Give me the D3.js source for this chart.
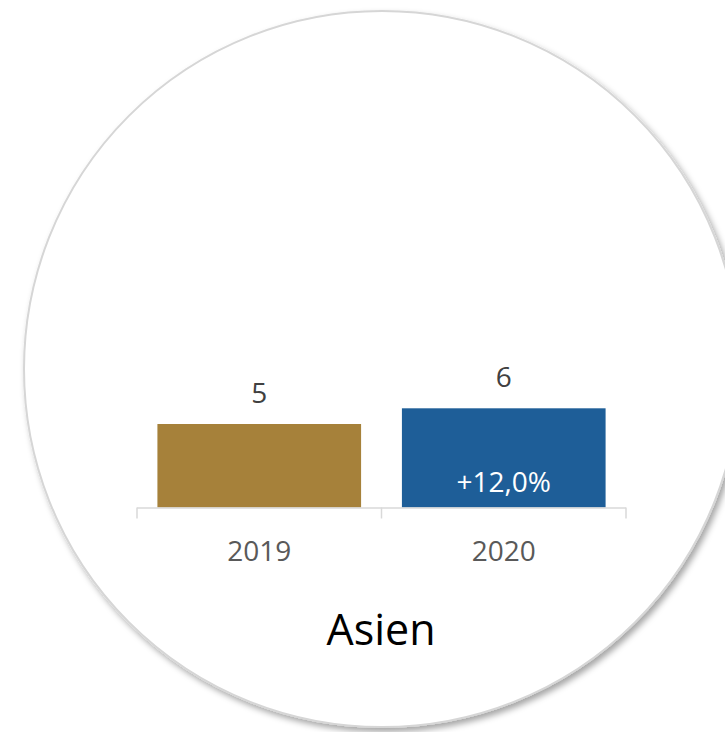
<!DOCTYPE html>
<html>
<head>
<meta charset="utf-8">
<script src="https://cdn.jsdelivr.net/npm/d3@7"></script>
<style>
  html, body { margin: 0; padding: 0; background: #ffffff; }
  svg { display: block; }
</style>
</head>
<body>
<div id="chart"></div>
<script>
// ---- data ----
const categories = ["2019", "2020"];
const values = [5.05, 6.0];
const valueLabels = ["5", "6"];
const changeLabels = ["", "+12,0%"];
const barColors = ["#A6813A", "#1E5E98"];
const title = "Asien";

// ---- layout ----
const W = 725, H = 732;
const cx = 382, cy = 369, R = 358;
const plotLeft = 137, plotRight = 626, baseY = 507.5, topY = 408.3;

const svg = d3.select("#chart").append("svg")
  .attr("width", W).attr("height", H);

const defs = svg.append("defs");
const f = defs.append("filter").attr("id", "shadow")
  .attr("x", "-10%").attr("y", "-10%").attr("width", "120%").attr("height", "120%");
f.append("feDropShadow").attr("dx", 3).attr("dy", 4).attr("stdDeviation", 3)
  .attr("flood-color", "#000").attr("flood-opacity", 0.35);

svg.append("circle")
  .attr("cx", cx).attr("cy", cy).attr("r", R)
  .attr("fill", "#ffffff")
  .attr("stroke", "#D6D6D6").attr("stroke-width", 2)
  .attr("filter", "url(#shadow)");

const x = d3.scaleBand().domain(categories).range([plotLeft, plotRight]).padding(0);
const y = d3.scaleLinear().domain([0, 6]).range([baseY, topY]);
const barW = x.bandwidth() * 0.833;

const g = svg.append("g");

// bars
g.selectAll("rect.bar").data(categories).join("rect")
  .attr("class", "bar")
  .attr("x", d => x(d) + (x.bandwidth() - barW) / 2)
  .attr("y", (d, i) => y(values[i]))
  .attr("width", barW)
  .attr("height", (d, i) => baseY - y(values[i]))
  .attr("fill", (d, i) => barColors[i]);

// axis line and boundary ticks
const axisColor = "#D9D9D9";
g.append("line")
  .attr("x1", plotLeft).attr("x2", plotRight)
  .attr("y1", baseY + 0.5).attr("y2", baseY + 0.5)
  .attr("stroke", axisColor).attr("stroke-width", 1.5);
const bounds = categories.map(d => x(d)).concat([x(categories[categories.length - 1]) + x.bandwidth()]);
g.selectAll("line.tick").data(bounds).join("line")
  .attr("class", "tick")
  .attr("x1", d => d).attr("x2", d => d)
  .attr("y1", baseY).attr("y2", baseY + 11)
  .attr("stroke", axisColor).attr("stroke-width", 1.5);

const font = "'Open Sans', 'Noto Sans', sans-serif";

// category labels
g.selectAll("text.cat").data(categories).join("text")
  .attr("class", "cat")
  .attr("x", d => x(d) + x.bandwidth() / 2)
  .attr("y", 561)
  .attr("text-anchor", "middle")
  .attr("font-family", font).attr("font-size", 28)
  .attr("fill", "#595959")
  .text(d => d);

// value labels
g.selectAll("text.val").data(categories).join("text")
  .attr("class", "val")
  .attr("x", d => x(d) + x.bandwidth() / 2)
  .attr("y", (d, i) => y(values[i]) - 21)
  .attr("text-anchor", "middle")
  .attr("font-family", font).attr("font-size", 28)
  .attr("fill", "#404040")
  .text((d, i) => valueLabels[i]);

// change labels inside bars
g.selectAll("text.chg").data(categories).join("text")
  .attr("class", "chg")
  .attr("x", d => x(d) + x.bandwidth() / 2)
  .attr("y", baseY - 15.5)
  .attr("text-anchor", "middle")
  .attr("font-family", font).attr("font-size", 28)
  .attr("fill", "#ffffff")
  .text((d, i) => changeLabels[i]);

// title
svg.append("text")
  .attr("x", 381).attr("y", 645)
  .attr("text-anchor", "middle")
  .attr("font-family", font).attr("font-size", 43)
  .attr("fill", "#000000")
  .text(title);
</script>
</body>
</html>
